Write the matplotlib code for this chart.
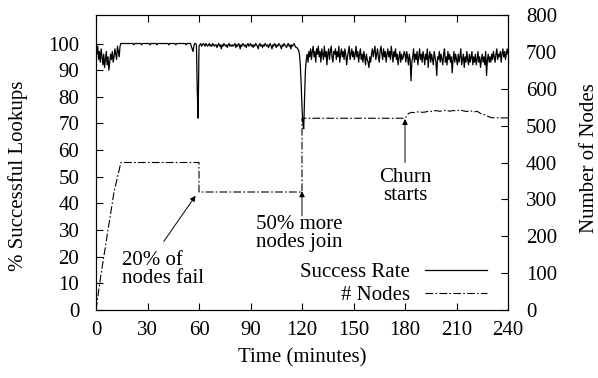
import numpy as np
import matplotlib
matplotlib.use('Agg')
import matplotlib.pyplot as plt

plt.rcParams['font.family'] = 'Liberation Serif'
plt.rcParams['font.size'] = 15

# success rate, sampled every half minute from 0 to 240
success_rate = [
    98, 96, 99, 94, 97, 93, 98, 95, 92, 96, 91, 94, 97, 92, 95, 90, 93, 96, 94, 97,
    93, 95, 98, 96, 94, 99, 97, 95, 99, 100, 100, 100, 100, 100, 100, 100, 100, 100, 100, 100,
    100, 100, 100, 100, 99.5, 100, 100, 100, 100, 100, 100, 100, 100, 99.5, 100, 100, 100, 100, 100, 100,
    100, 100, 100, 99.5, 100, 100, 100, 100, 100, 100, 100, 99.5, 100, 100, 100, 100, 100, 100, 100, 100,
    100, 100, 100, 100, 100, 99.5, 100, 100, 100, 100, 100, 100, 100, 99.5, 100, 100, 100, 100, 100, 100,
    100, 100, 100, 100, 100, 99.5, 100, 100, 100, 100, 100, 99, 98, 97, 99, 100, 100, 99.5, 82, 72,
    99, 99.5, 100, 99, 99.5, 100, 99.5, 99, 100, 99.5, 99, 99.5, 100, 99, 99.5, 99, 100, 99.5, 99, 99.5,
    99.5, 98.5, 99.5, 100, 99, 99.5, 98, 99.5, 99, 100, 99.5, 99, 99.5, 98.5, 99.5, 100, 99, 99.5, 99, 99.5,
    99, 99.5, 100, 98.5, 99.5, 99, 100, 99.5, 98, 99.5, 99, 100, 99.5, 99, 99.5, 98.5, 99.5, 100, 99, 99.5,
    100, 99, 99.5, 98.5, 99.5, 99, 100, 99.5, 99, 98, 99.5, 100, 99, 99.5, 98.5, 99.5, 99, 100, 99.5, 99,
    99.5, 98.5, 99.5, 100, 99, 98, 99.5, 99, 100, 99.5, 98.5, 99.5, 99, 100, 99.5, 99, 98, 99.5, 99, 100,
    99.5, 99, 98.5, 99.5, 100, 99, 99.5, 98, 99.5, 99, 99.5, 100, 99, 98.5, 98.5, 98, 97.5, 96, 92, 85,
    76, 70, 68, 80, 90, 94, 96, 93, 97, 95, 98, 94, 97, 99, 95, 97, 93, 98, 96, 99,
    95, 97, 93, 98, 96, 94, 99, 95, 97, 92, 96, 98, 94, 97, 99, 95, 93, 97, 96, 98,
    94, 97, 95, 99, 93, 96, 98, 95, 97, 94, 98, 96, 92, 95, 97, 99, 94, 96, 98, 95,
    97, 94, 96, 99, 95, 97, 93, 96, 98, 94, 96, 93, 97, 95, 92, 96, 94, 93, 91, 95,
    93, 96, 98, 95, 97, 99, 94, 96, 98, 95, 93, 97, 99, 96, 94, 98, 95, 97, 93, 96,
    98, 95, 97, 94, 99, 96, 93, 97, 95, 98, 94, 96, 92, 95, 97, 93, 96, 94, 95, 97,
    96, 93, 97, 95, 92, 96, 94, 86, 93, 95, 98, 93, 96, 94, 97, 92, 95, 98, 94, 96,
    93, 97, 95, 92, 96, 94, 98, 91, 95, 97, 93, 96, 94, 92, 97, 95, 93, 88, 95, 94,
    97, 93, 96, 94, 92, 96, 98, 93, 95, 92, 97, 94, 96, 93, 95, 89, 94, 97, 93, 96,
    94, 92, 96, 93, 95, 98, 92, 94, 96, 91, 95, 93, 97, 94, 92, 96, 93, 95, 97, 92,
    95, 93, 96, 92, 94, 97, 93, 95, 91, 94, 96, 93, 95, 92, 97, 88, 94, 96, 93, 95,
    93, 96, 94, 97, 95, 93, 96, 98, 94, 96, 95, 97, 93, 96, 98, 95, 97, 94, 96, 98,
    96,
]
rate_time = np.arange(0, 240.5, 0.5)

# number of nodes in the system
node_time = [0, 2.7, 10.5, 14.5, 60, 60, 120, 120, 180, 181, 182, 184, 186, 188, 190,
             192, 194, 196, 198, 200, 202, 204, 206, 208, 210, 212, 214, 216, 218,
             220, 222, 224, 226, 228, 230, 232, 240]
node_count = [0, 90, 320, 400, 400, 320, 320, 520, 520, 526, 533, 536, 535, 538, 536,
              537, 540, 538, 541, 539, 540, 542, 539, 541, 540, 543, 540, 538, 541,
              537, 539, 533, 530, 526, 522, 521, 521]

fig = plt.figure(figsize=(5.98, 3.78), dpi=100)
ax = fig.add_axes([96 / 598, 1 - 310 / 378, 412 / 598, 295 / 378])
ax2 = ax.twinx()

l1, = ax.plot(rate_time, success_rate, color='black', lw=0.9)
l2, = ax2.plot(node_time, node_count, color='black', lw=0.8, linestyle=(0, (7, 2, 1.5, 2)))

ax.set_xlim(0, 240)
ax.set_ylim(0, 110.7)
ax2.set_ylim(0, 800)
ax.set_xticks(range(0, 241, 30))
ax.set_yticks(range(0, 101, 10))
ax2.set_yticks(range(0, 801, 100))

ax.tick_params(direction='in', length=5, top=True, right=False, pad=12)
ax2.tick_params(direction='in', length=5, pad=13)
ax.tick_params(axis='x', pad=8)

ax.set_xlabel('Time (minutes)', labelpad=6)
ax.set_ylabel('% Successful Lookups')
ax.yaxis.set_label_coords(-0.166, 0.455)
ax2.set_ylabel('Number of Nodes')
ax2.yaxis.set_label_coords(1.175, 0.515)

# annotations (drawn on the node axis)
arrow = dict(arrowstyle='-|>', color='black', lw=0.7, mutation_scale=8, shrinkA=0, shrinkB=0)
ax2.annotate('', xy=(58, 310), xytext=(39.5, 186), arrowprops=arrow)
ax2.text(15, 160, '20% of\nnodes fail', ha='left', va='top', linespacing=0.95)
ax2.annotate('', xy=(120, 322), xytext=(120, 255), arrowprops=arrow)
ax2.text(93, 258, '50% more\nnodes join', ha='left', va='top', linespacing=0.95)
ax2.annotate('', xy=(180, 518), xytext=(180, 400), arrowprops=arrow)
ax2.text(180, 385, 'Churn\nstarts', ha='center', va='top', linespacing=0.95)

leg = ax.legend([l1, l2], ['Success Rate', '# Nodes'], loc='lower right',
                bbox_to_anchor=(0.97, -0.012), frameon=False, markerfirst=False,
                handlelength=3.0, handletextpad=0.7, labelspacing=0.18,
                borderaxespad=0.0)
for t in leg.get_texts():
    t.set_ha('right')

fig.savefig('out.png', dpi=100)
